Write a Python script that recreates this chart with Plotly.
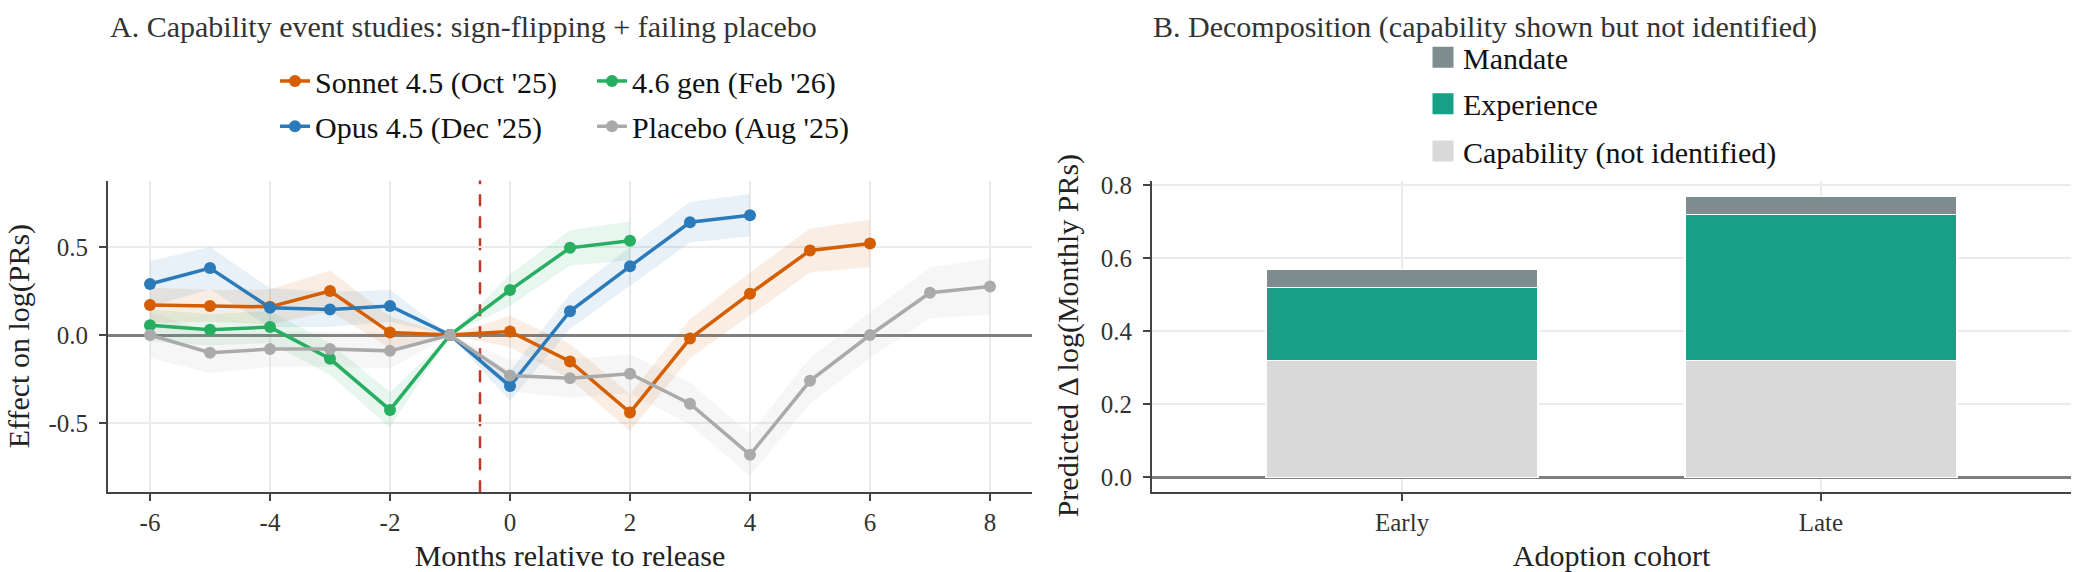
import plotly.graph_objects as go

# ---------------- data ----------------
# Panel A: event-study coefficients (months relative to release)
SONNET_X = [-6, -5, -4, -3, -2, -1, 0, 1, 2, 3, 4, 5, 6]
SONNET_Y = [0.17, 0.165, 0.16, 0.25, 0.015, 0.0, 0.02, -0.15, -0.44, -0.02, 0.235, 0.48, 0.52]
SONNET_CI = [0.10, 0.09, 0.10, 0.115, 0.09, 0.0, 0.09, 0.10, 0.105, 0.11, 0.12, 0.125, 0.135]

OPUS_X = [-6, -5, -4, -3, -2, -1, 0, 1, 2, 3, 4]
OPUS_Y = [0.29, 0.38, 0.155, 0.145, 0.165, 0.0, -0.29, 0.135, 0.39, 0.64, 0.68]
OPUS_CI = [0.13, 0.12, 0.11, 0.10, 0.09, 0.0, 0.085, 0.10, 0.11, 0.115, 0.12]

GEN46_X = [-6, -5, -4, -3, -2, -1, 0, 1, 2]
GEN46_Y = [0.055, 0.03, 0.045, -0.135, -0.425, 0.0, 0.255, 0.495, 0.535]
GEN46_CI = [0.09, 0.09, 0.09, 0.09, 0.10, 0.0, 0.09, 0.10, 0.11]

PLACEBO_X = [-6, -5, -4, -3, -2, -1, 0, 1, 2, 3, 4, 5, 6, 7, 8]
PLACEBO_Y = [0.0, -0.10, -0.08, -0.08, -0.09, 0.0, -0.23, -0.245, -0.22, -0.39, -0.68, -0.26, 0.0, 0.24, 0.275]
PLACEBO_CI = [0.13, 0.115, 0.10, 0.10, 0.10, 0.0, 0.09, 0.11, 0.11, 0.12, 0.12, 0.13, 0.13, 0.145, 0.16]

SERIES_NAMES = ["Sonnet 4.5 (Oct '25)", "Opus 4.5 (Dec '25)", "4.6 gen (Feb '26)", "Placebo (Aug '25)"]
EVENT_LINE_X = -0.5
A_X_TICKS = [-6, -4, -2, 0, 2, 4, 6, 8]
A_Y_TICKS = [-0.5, 0.0, 0.5]

# Panel B: decomposition
COHORTS = ["Early", "Late"]
CAPABILITY = [0.32, 0.32]
EXPERIENCE = [0.20, 0.40]
MANDATE = [0.05, 0.05]
B_Y_TICKS = [0.0, 0.2, 0.4, 0.6, 0.8]

# ---------------- style ----------------
FONT = "Liberation Serif, Times New Roman, serif"
COLORS = ["#D55E00", "#2B7BBA", "#27AE60", "#AAAAAA"]
BAR_COLORS = {"Capability (not identified)": "#D9D9D9", "Experience": "#16A085", "Mandate": "#7F8C8D"}
W, H = 2073, 572
TICK_SIZE = 25
TEXT_SIZE = 30


def rgba(hex_color, a):
    h = hex_color.lstrip("#")
    r, g, b = int(h[0:2], 16), int(h[2:4], 16), int(h[4:6], 16)
    return f"rgba({r},{g},{b},{a})"


fig = go.Figure()

series = [
    (SONNET_X, SONNET_Y, SONNET_CI),
    (OPUS_X, OPUS_Y, OPUS_CI),
    (GEN46_X, GEN46_Y, GEN46_CI),
    (PLACEBO_X, PLACEBO_Y, PLACEBO_CI),
]

# ribbons first
for (xs, ys, ci), col in zip(series, COLORS):
    upper = [y + c for y, c in zip(ys, ci)]
    lower = [y - c for y, c in zip(ys, ci)]
    fig.add_trace(go.Scatter(
        x=list(xs) + list(xs)[::-1], y=upper + lower[::-1],
        fill="toself", fillcolor=rgba(col, 0.11), line=dict(width=0),
        mode="lines", hoverinfo="skip", showlegend=False, xaxis="x", yaxis="y"))

# one legend box per entry: 2x2 grid (column-wise like the original)
legend_ids = ["legend", "legend2", "legend3", "legend4"]
for (xs, ys, ci), col, name, lg in zip(series, COLORS, SERIES_NAMES, legend_ids):
    fig.add_trace(go.Scatter(
        x=xs, y=ys, name=name, mode="lines+markers",
        line=dict(color=col, width=3.5), marker=dict(color=col, size=12),
        legend=lg, xaxis="x", yaxis="y"))

# bars (stacked)
bar_legends = {"Capability (not identified)": "legend7", "Experience": "legend6", "Mandate": "legend5"}
for name, vals in [("Capability (not identified)", CAPABILITY), ("Experience", EXPERIENCE), ("Mandate", MANDATE)]:
    fig.add_trace(go.Bar(
        x=COHORTS, y=vals, name=name, width=0.65, legendgroup=name, showlegend=False,
        marker=dict(color=BAR_COLORS[name], line=dict(color="white", width=1.5)),
        xaxis="x2", yaxis="y2"))
    # legend key (larger square than the default bar key)
    fig.add_trace(go.Scatter(
        x=[None], y=[None], name=name, mode="markers", legendgroup=name,
        marker=dict(symbol="square", size=16, color=BAR_COLORS[name],
                    line=dict(color=BAR_COLORS[name], width=5)),
        legend=bar_legends[name], xaxis="x2", yaxis="y2", hoverinfo="skip"))

# vertical event line
fig.add_shape(type="line", xref="x", yref="y domain", x0=EVENT_LINE_X, x1=EVENT_LINE_X, y0=0, y1=1,
              line=dict(color="#C0392B", width=2.5, dash="12px,10px"), layer="below")

axis_common = dict(
    showline=True, linecolor="#444444", linewidth=2,
    ticks="outside", ticklen=7, tickcolor="#444444", tickwidth=2,
    showgrid=True, gridcolor="#EBEBEB", gridwidth=1.5,
    tickfont=dict(family=FONT, size=TICK_SIZE, color="#333333"),
)
x_extra = dict(zeroline=False, ticklabelstandoff=0)
y_extra = dict(zeroline=True, zerolinecolor="#7F7F7F", zerolinewidth=2.5, ticklabelstandoff=6)

Y_DOM = [1 - 491 / H, 1 - 175 / H]
title_font = dict(family=FONT, size=TEXT_SIZE, color="#222222")

fig.update_layout(
    width=W, height=H, autosize=False,
    margin=dict(l=0, r=0, t=0, b=0),
    paper_bgcolor="white", plot_bgcolor="white",
    font=dict(family=FONT, size=TEXT_SIZE, color="#111111"),
    barmode="stack",
    xaxis=dict(domain=[108 / W, 1032 / W], range=[-6.7, 8.7], anchor="y",
               tickvals=A_X_TICKS, ticktext=[f"{v:g}" for v in A_X_TICKS],
               title=dict(text="Months relative to release", font=title_font, standoff=10),
               **axis_common, **x_extra),
    yaxis=dict(domain=Y_DOM, range=[-0.892, 0.877], anchor="x",
               tickvals=A_Y_TICKS, ticktext=[f"{v:.1f}" for v in A_Y_TICKS],
               **axis_common, **y_extra),
    xaxis2=dict(domain=[1152 / W, 2071 / W], range=[-0.597, 1.597], anchor="y2", type="category",
                title=dict(text="Adoption cohort", font=title_font, standoff=10),
                **axis_common, **x_extra),
    yaxis2=dict(domain=Y_DOM, range=[-0.0405, 0.8135], anchor="x2",
                tickvals=B_Y_TICKS, ticktext=[f"{v:.1f}" for v in B_Y_TICKS],
                **axis_common, **y_extra),
)

leg_base = dict(bgcolor="rgba(0,0,0,0)", borderwidth=0, font=dict(family=FONT, size=TEXT_SIZE, color="#111111"),
                xanchor="left", yanchor="middle")
fig.update_layout(
    legend=dict(x=275 / W, y=1 - 74 / H, **leg_base),    # Sonnet
    legend2=dict(x=275 / W, y=1 - 120 / H, **leg_base),  # Opus
    legend3=dict(x=592 / W, y=1 - 74 / H, **leg_base),   # 4.6 gen
    legend4=dict(x=592 / W, y=1 - 120 / H, **leg_base),  # Placebo
    legend5=dict(x=1423 / W, y=1 - 50 / H, **leg_base),  # Mandate
    legend6=dict(x=1423 / W, y=1 - 97 / H, **leg_base),  # Experience
    legend7=dict(x=1423 / W, y=1 - 145 / H, **leg_base), # Capability
)

# y-axis titles (rotated)
Y_MID = 1 - 333 / H
fig.add_annotation(text="Effect on log(PRs)", xref="paper", yref="paper", x=0, y=Y_MID,
                   xanchor="left", yanchor="middle", textangle=-90, showarrow=False, font=title_font)
fig.add_annotation(text="Predicted \u0394 log(Monthly PRs)", xref="paper", yref="paper", x=1068 / W, y=Y_MID,
                   xanchor="center", yanchor="middle", textangle=-90, showarrow=False, font=title_font)

# panel titles
fig.add_annotation(text="A. Capability event studies: sign-flipping + failing placebo",
                   xref="paper", yref="paper", x=108 / W, y=1, xanchor="left", yanchor="top",
                   showarrow=False, font=dict(family=FONT, size=30, color="#333333"))
fig.add_annotation(text="B. Decomposition (capability shown but not identified)",
                   xref="paper", yref="paper", x=1151 / W, y=1, xanchor="left", yanchor="top",
                   showarrow=False, font=dict(family=FONT, size=30, color="#333333"))

fig.write_html("out.html")
